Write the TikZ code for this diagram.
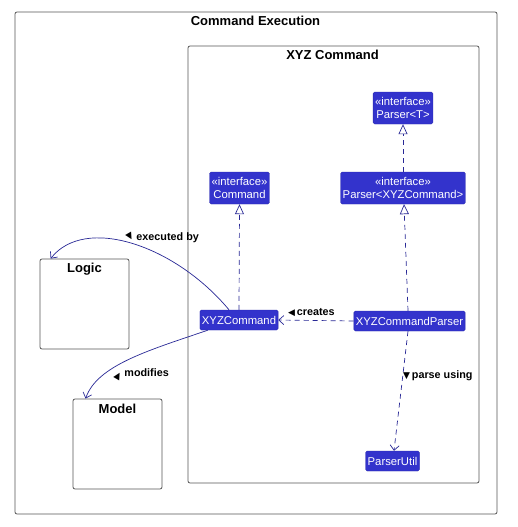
\documentclass[tikz,border=0pt]{standalone}
\usepackage{fontspec}
\usepackage{graphicx}
\setmainfont{Liberation Sans}
\newfontfamily\symfont{DejaVu Sans}
\usetikzlibrary{arrows.meta}
\definecolor{boxfill}{RGB}{51,51,204}
\definecolor{lnk}{RGB}{40,40,150}
\definecolor{framec}{RGB}{85,85,85}
\newcommand{\tridown}{{\symfont\fontsize{9}{9}\selectfont ▼}}
\newcommand{\triup}{{\symfont\fontsize{9}{9}\selectfont ▲}}
\newcommand{\trileft}{{\symfont\fontsize{9}{9}\selectfont ◀}}
\begin{document}
\begin{tikzpicture}[x=1pt,y=-1pt,
  cls/.style={fill=boxfill, draw=boxfill!85!black, rounded corners=1.5pt, text=white,
    font=\fontsize{11.3}{13}\selectfont, inner xsep=2pt, inner ysep=0pt,
    minimum height=20pt, align=center},
  iface/.style={cls, minimum height=32pt},
  pkg/.style={draw=framec, rounded corners=2pt, line width=0.8pt, inner sep=0pt},
  ttl/.style={font=\bfseries\fontsize{13}{15}\selectfont, inner sep=0pt},
  lbl/.style={font=\bfseries\fontsize{10.8}{12}\selectfont, inner sep=0pt, anchor=west},
  real/.style={draw=lnk, line width=0.7pt},
  dep/.style={real, dash pattern=on 5pt off 4pt},
  impl/.style={dep, -{Triangle[open, length=10pt, width=9pt]}},
  use/.style={-{Straight Barb[length=5pt, width=9pt]}}
]
\useasboundingbox[fill=white] (0,0) rectangle (518,527);

% frames
\node[pkg, minimum width=482pt, minimum height=502pt] (outer) at (256,263) {};
\node[ttl] (outert) at (255.5,20.5) {Command Execution};
\node[pkg, minimum width=291pt, minimum height=437pt] (inner) at (333.5,264.5) {};
\node[ttl] (innert) at (332.5,55) {XYZ Command};

\node[pkg, minimum width=89pt, minimum height=90pt] (logic) at (84.5,304) {};
\node[ttl] (logict) at (84.5,269) {Logic};
\node[pkg, minimum width=89pt, minimum height=90pt] (model) at (117.5,444) {};
\node[ttl] (modelt) at (117.5,408.5) {Model};

% classes
\node[iface] (pt) at (403,108) {«interface»\\Parser<T>};
\node[iface] (cmd) at (239.5,188) {«interface»\\Command};
\node[iface] (px) at (403,188) {«interface»\\Parser<XYZCommand>};
\node[cls] (xc) at (239,320) {XYZCommand};
\node[cls] (xcp) at (409.5,321) {XYZCommandParser};
\node[cls] (pu) at (392.5,461) {ParserUtil};

% connectors
\draw[impl] (px.north) -- (pt.south);
\draw[impl] (xc.north) -- (cmd.south);
\draw[impl] ([xshift=-1.5pt]xcp.north) -- ([xshift=1pt]px.south);
\draw[dep, use] (xcp.west) -- (xc.east);
\draw[dep, use] ([xshift=-1.5pt]xcp.south) -- ([xshift=1.5pt]pu.north);
\draw[real, use] ([xshift=-10pt]xc.north) .. controls (175,245) and (85,215) .. ([xshift=11pt]logic.north west);
\draw[real, use] ([xshift=8pt]xc.south west) .. controls (150,350) and (97,365) .. ([xshift=13pt]model.north west);

% labels
\node[lbl] (l1) at (125,237) {\rotatebox{30}{\tridown}\,executed by};
\node[lbl] (l2) at (113,375) {\rotatebox{-30}{\triup}\,modifies};
\node[lbl] (l3) at (288,313) {\trileft\,creates};
\node[lbl] (l4) at (403,375.5) {\tridown\,parse using};
\end{tikzpicture}
\end{document}
